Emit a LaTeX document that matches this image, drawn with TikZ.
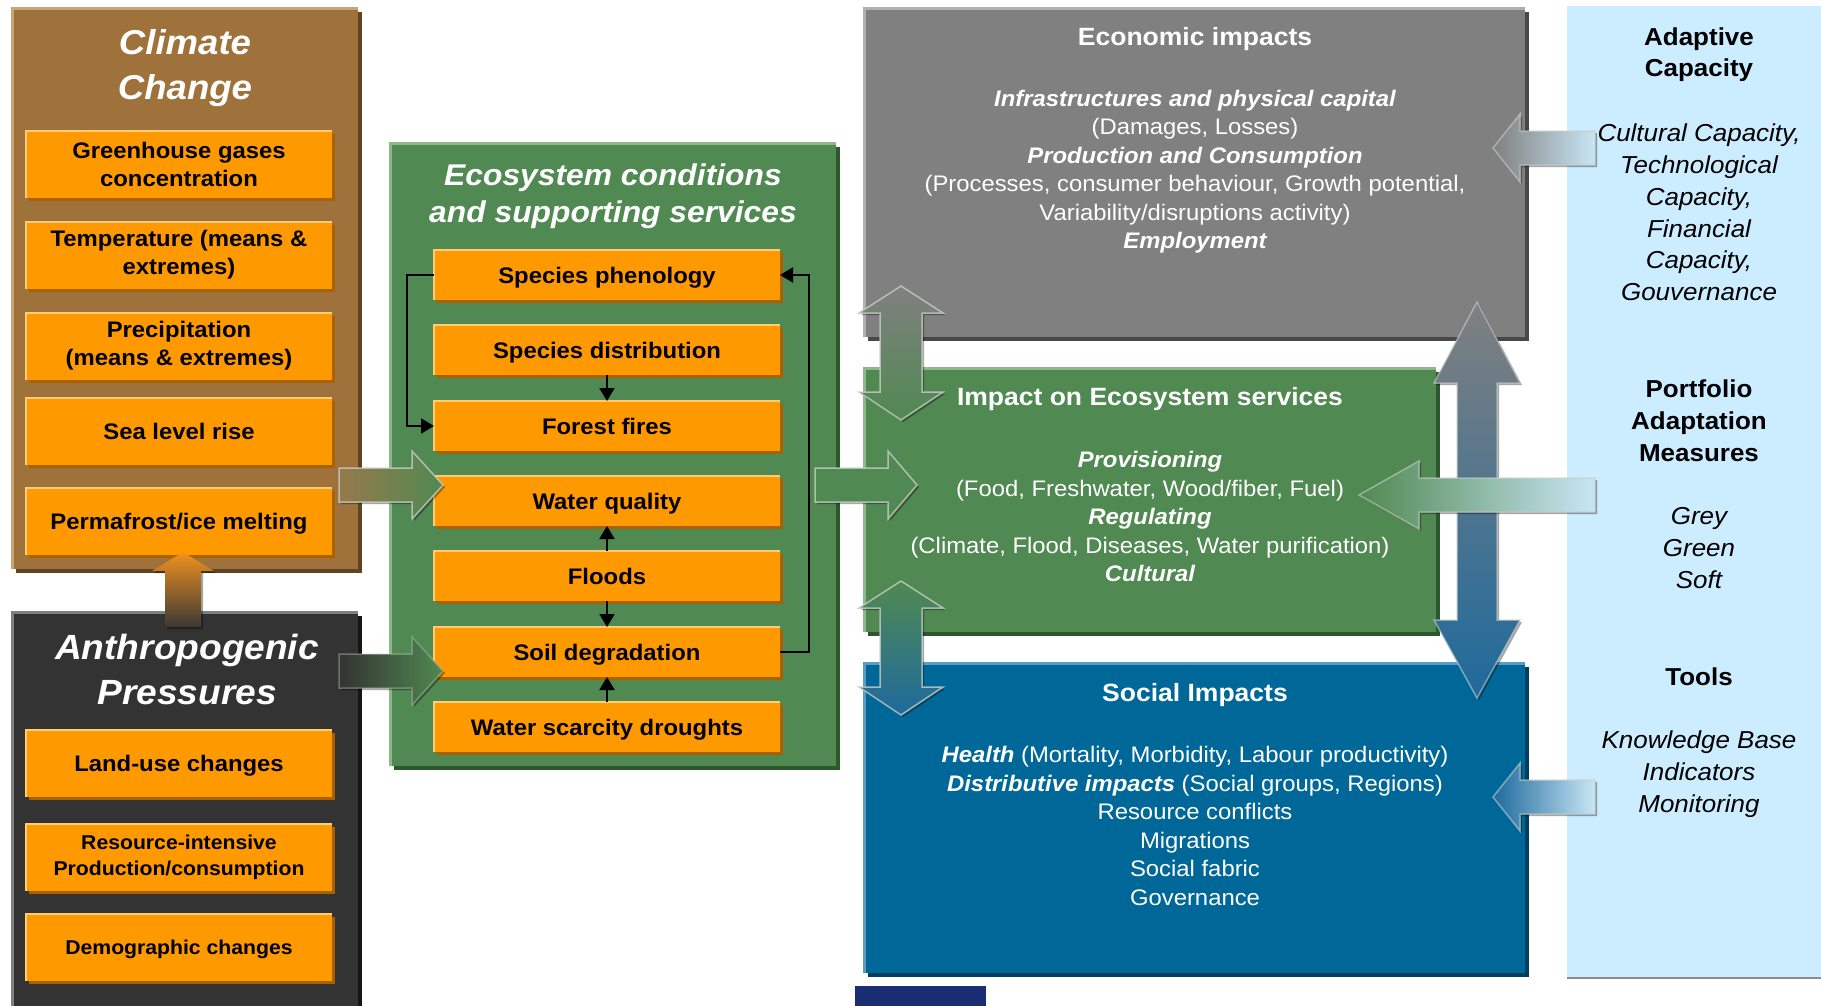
\documentclass[tikz,border=0pt]{standalone}
\usepackage{fontspec}
\setmainfont{Liberation Sans}[FakeStretch=1.06]
\usetikzlibrary{arrows.meta,shadows}
\newcommand{\fsz}[2]{\fontsize{#1}{#2}\selectfont}
\definecolor{cbrown}{RGB}{158,114,58}
\definecolor{cbrownL}{RGB}{200,165,118}
\definecolor{cbrownD}{RGB}{94,68,34}
\definecolor{carbrown}{RGB}{150,122,75}
\definecolor{cdark}{RGB}{51,51,51}
\definecolor{cdarkL}{RGB}{128,128,128}
\definecolor{cdarkD}{RGB}{22,22,22}
\definecolor{corange}{RGB}{255,153,0}
\definecolor{corangeL}{RGB}{255,204,120}
\definecolor{corangeD}{RGB}{170,98,0}
\definecolor{cupor}{RGB}{240,146,30}
\definecolor{cupdk}{RGB}{59,56,53}
\definecolor{cgreen}{RGB}{80,137,81}
\definecolor{cgreenL}{RGB}{140,184,140}
\definecolor{cgreenD}{RGB}{45,88,46}
\definecolor{cgrey}{RGB}{128,128,128}
\definecolor{cgreyL}{RGB}{176,176,176}
\definecolor{cgreyD}{RGB}{72,72,72}
\definecolor{cblue}{RGB}{0,104,153}
\definecolor{cblueL}{RGB}{90,156,196}
\definecolor{cblueD}{RGB}{0,62,94}
\definecolor{carblue}{RGB}{30,106,157}
\definecolor{clight}{RGB}{204,236,255}
\definecolor{carlight}{RGB}{200,230,245}
\definecolor{cnavy}{RGB}{27,45,114}
\definecolor{cedge}{RGB}{200,205,200}
% block arrow shapes
\newcommand{\rarrow}[7]{\path[#1] (#2,#5-#7) -- (#3,#5-#7) -- (#3,#5-#6) -- (#4,#5) -- (#3,#5+#6) -- (#3,#5+#7) -- (#2,#5+#7) -- cycle;}
\newcommand{\larrow}[7]{\path[#1] (#2,#5) -- (#3,#5-#6) -- (#3,#5-#7) -- (#4,#5-#7) -- (#4,#5+#7) -- (#3,#5+#7) -- (#3,#5+#6) -- cycle;}
\newcommand{\vdarrow}[8]{\path[#1] (#2,#5) -- (#2+#3,#6) -- (#2+#4,#6) -- (#2+#4,#7) -- (#2+#3,#7) -- (#2,#8) -- (#2-#3,#7) -- (#2-#4,#7) -- (#2-#4,#6) -- (#2-#3,#6) -- cycle;}
\newcommand{\uarrow}[7]{\path[#1] (#2,#5) -- (#2+#3,#6) -- (#2+#4,#6) -- (#2+#4,#7) -- (#2-#4,#7) -- (#2-#4,#6) -- (#2-#3,#6) -- cycle;}
\newcommand{\hlo}[1]{\draw[corangeL, line width=2pt] (#1.south west) |- (#1.north east);}
\begin{document}
\begin{tikzpicture}[x=1pt,y=-1pt,
  every node/.style={inner sep=0pt,outer sep=0pt},
  panel/.style={anchor=north west},
  obox/.style={fill=corange, minimum width=306pt, minimum height=67pt, align=center, text=black, font=\bfseries\fsz{22.5}{28}, drop shadow={shadow xshift=3pt,shadow yshift=-3pt,fill=corangeD,opacity=1}},
  ebox/.style={obox, minimum width=346pt, minimum height=50pt},
  one/.style={text height=16pt, text depth=0pt},
  onesm/.style={text height=14.3pt, text depth=0pt},
  big/.style={anchor=base, text=white, font=\bfseries\itshape\fsz{32}{40}},
  wt/.style={anchor=base, text=white, font=\fsz{22.5}{27}},
  wh/.style={anchor=base, text=white, font=\bfseries\itshape\fsz{22.5}{27}},
  wtt/.style={anchor=base, text=white, font=\bfseries\fsz{25}{30}},
  kt/.style={anchor=base, text=black, font=\itshape\fsz{24.5}{30}},
  kh/.style={anchor=base, text=black, font=\bfseries\fsz{24.5}{30}},
  blk/.style={draw=black, line width=2pt, -{Triangle[length=13pt,width=15pt]}},
  shd/.style={fill=black, opacity=0.35, shift={(2,2)}},
  edge/.style={draw=cedge, draw opacity=0.8, line width=1.5pt}
]
\fill[white] (0,0) rectangle (1821,1005);
\useasboundingbox (0,0) rectangle (1821,1005);

% ---------- panels ----------
\node[panel, fill=cbrown, minimum width=346pt, minimum height=561pt,
  drop shadow={shadow xshift=4pt,shadow yshift=-4pt,fill=cbrownD,opacity=1}] (climate) at (12,8) {};
\draw[cbrownL, line width=3pt] (climate.south west) |- (climate.north east);

\node[panel, fill=cdark, minimum width=346pt, minimum height=400pt,
  drop shadow={shadow xshift=4pt,shadow yshift=-4pt,fill=cdarkD,opacity=1}] (anthro) at (12,612) {};
\draw[cdarkL, line width=3pt] (anthro.south west) |- (anthro.north east);

\node[panel, fill=cgreen, minimum width=446pt, minimum height=623pt,
  drop shadow={shadow xshift=4pt,shadow yshift=-4pt,fill=cgreenD,opacity=1}] (eco) at (390,143) {};
\draw[cgreenL, line width=3pt] (eco.south west) |- (eco.north east);

\node[panel, fill=cgrey, minimum width=661pt, minimum height=329pt,
  drop shadow={shadow xshift=4pt,shadow yshift=-4pt,fill=cgreyD,opacity=1}] (econ) at (864,8) {};
\draw[cgreyL, line width=3pt] (econ.south west) |- (econ.north east);

\node[panel, fill=cgreen, minimum width=572pt, minimum height=264pt,
  drop shadow={shadow xshift=4pt,shadow yshift=-4pt,fill=cgreenD,opacity=1}] (impact) at (864,368) {};
\draw[cgreenL, line width=3pt] (impact.south west) |- (impact.north east);

\node[panel, fill=cblue, minimum width=661pt, minimum height=310pt,
  drop shadow={shadow xshift=4pt,shadow yshift=-4pt,fill=cblueD,opacity=1}] (social) at (864,663) {};
\draw[cblueL, line width=3pt] (social.south west) |- (social.north east);

\node[panel, fill=clight, minimum width=260pt, minimum height=971pt,
  drop shadow={shadow xshift=0pt,shadow yshift=-2pt,fill=black!45,opacity=1}] (adapt) at (1567,6) {};

\node[panel, fill=cnavy, minimum width=131pt, minimum height=25pt] (navy) at (855,986) {};

% ---------- climate change ----------
\node[big, font=\bfseries\itshape\fsz{34.5}{40}] (cct1) at (185,54) {Climate};
\node[big, font=\bfseries\itshape\fsz{34.5}{40}] (cct2) at (185,99) {Change};
\node[obox] (gh) at (179,164) {Greenhouse gases\\concentration};
\node[obox] (tm) at (179,255) {Temperature (means \&\\extremes)};
\node[obox] (pr) at (179,346) {Precipitation\\(means \& extremes)};
\node[obox, one] (sl) at (179,431) {Sea level rise};
\node[obox, one] (pf) at (179,521) {Permafrost/ice melting};
\hlo{gh}\hlo{tm}\hlo{pr}\hlo{sl}\hlo{pf}

% ---------- anthropogenic ----------
\node[big, font=\bfseries\itshape\fsz{35}{44}] (apt1) at (187,659) {Anthropogenic};
\node[big, font=\bfseries\itshape\fsz{35}{44}] (apt2) at (187,704) {Pressures};
\node[obox, one] (lu) at (179,763) {Land-use changes};
\node[obox, font=\bfseries\fsz{20}{26}] (ri) at (179,857) {Resource-intensive\\Production/consumption};
\node[obox, onesm, font=\bfseries\fsz{20}{26}] (dc) at (179,947) {Demographic changes};
\hlo{lu}\hlo{ri}\hlo{dc}

% ---------- ecosystem ----------
\node[big, font=\bfseries\itshape\fsz{30}{37}] (ect1) at (613,185) {Ecosystem conditions};
\node[big, font=\bfseries\itshape\fsz{30}{37}] (ect2) at (613,222) {and supporting services};
\node[ebox, one] (sp) at (607,275) {Species phenology};
\node[ebox, one] (sd) at (607,350) {Species distribution};
\node[ebox, one] (ff) at (607,426) {Forest fires};
\node[ebox, one] (wq) at (607,501) {Water quality};
\node[ebox, one] (fl) at (607,576) {Floods};
\node[ebox, one] (sdg) at (607,652) {Soil degradation};
\node[ebox, one] (ws) at (607,727) {Water scarcity droughts};
\hlo{sp}\hlo{sd}\hlo{ff}\hlo{wq}\hlo{fl}\hlo{sdg}\hlo{ws}
\draw[blk] (sd.south) -- (ff.north);
\draw[blk] (fl.north) -- (wq.south);
\draw[blk] (fl.south) -- (sdg.north);
\draw[blk] (ws.north) -- (sdg.south);
\draw[blk] (sp.west) -- ++(-27,0) |- (ff.west);
\draw[blk] (sdg.east) -- ++(29,0) |- (sp.east);

% ---------- economic ----------
\node[wtt] (et0) at (1195,45) {Economic impacts};
\node[wh] (et1) at (1195,106) {Infrastructures and physical capital};
\node[wt] (et2) at (1195,134.5) {(Damages, Losses)};
\node[wh] (et3) at (1195,163) {Production and Consumption};
\node[wt] (et4) at (1195,191.5) {(Processes, consumer behaviour, Growth potential,};
\node[wt] (et5) at (1195,220) {Variability/disruptions activity)};
\node[wh] (et6) at (1195,248.5) {Employment};

% ---------- impact on ecosystem services ----------
\node[wtt] (it0) at (1150,405) {Impact on Ecosystem services};
\node[wh] (it1) at (1150,467.5) {Provisioning};
\node[wt] (it2) at (1150,496) {(Food, Freshwater, Wood/fiber, Fuel)};
\node[wh] (it3) at (1150,524.5) {Regulating};
\node[wt] (it4) at (1150,553) {(Climate, Flood, Diseases, Water purification)};
\node[wh] (it5) at (1150,581.5) {Cultural};

% ---------- social ----------
\node[wtt] (st0) at (1195,701) {Social Impacts};
\node[wt] (st1) at (1195,762) {{\bfseries\itshape Health} (Mortality, Morbidity, Labour productivity)};
\node[wt] (st2) at (1195,791) {{\bfseries\itshape Distributive impacts} (Social groups, Regions)};
\node[wt] (st3) at (1195,819.5) {Resource conflicts};
\node[wt] (st4) at (1195,848) {Migrations};
\node[wt] (st5) at (1195,876.5) {Social fabric};
\node[wt] (st6) at (1195,905) {Governance};

% ---------- right column ----------
\node[kh] (ac1) at (1699,45) {Adaptive};
\node[kh] (ac2) at (1699,76) {Capacity};
\node[kt] (ac3) at (1699,141) {Cultural Capacity,};
\node[kt] (ac4) at (1699,173) {Technological};
\node[kt] (ac5) at (1699,205) {Capacity,};
\node[kt] (ac6) at (1699,237) {Financial};
\node[kt] (ac7) at (1699,268) {Capacity,};
\node[kt] (ac8) at (1699,300) {Gouvernance};
\node[kh] (pa1) at (1699,397) {Portfolio};
\node[kh] (pa2) at (1699,429) {Adaptation};
\node[kh] (pa3) at (1699,461) {Measures};
\node[kt] (pa4) at (1699,524) {Grey};
\node[kt] (pa5) at (1699,556) {Green};
\node[kt] (pa6) at (1699,588) {Soft};
\node[kh] (to1) at (1699,685) {Tools};
\node[kt] (to2) at (1699,748) {Knowledge Base};
\node[kt] (to3) at (1699,780) {Indicators};
\node[kt] (to4) at (1699,812) {Monitoring};

% ---------- block arrows ----------
% anthropogenic -> climate
\uarrow{shd}{183}{31}{18}{552}{571}{627}
\uarrow{top color=cupor, bottom color=cupdk}{183}{31}{18}{552}{571}{627}
% climate -> ecosystem
\rarrow{shd}{339}{412}{443}{485}{34}{17}
\rarrow{left color=carbrown, right color=cgreen}{339}{412}{443}{485}{34}{17}
\rarrow{edge}{339}{412}{443}{485}{34}{17}
% anthropogenic -> ecosystem
\rarrow{shd}{339}{412}{443}{671}{34}{17}
\rarrow{left color=cdark, right color=cgreen}{339}{412}{443}{671}{34}{17}
\rarrow{edge, draw opacity=0.4}{339}{412}{443}{671}{34}{17}
% ecosystem -> impact
\rarrow{shd}{815}{888}{917}{485}{34}{17}
\rarrow{fill=cgreen}{815}{888}{917}{485}{34}{17}
\rarrow{edge}{815}{888}{917}{485}{34}{17}
% economic <-> impact
\vdarrow{shd}{901}{42}{21}{286}{313}{392}{420}
\vdarrow{top color=cgrey, bottom color=cgreen}{901}{42}{21}{286}{313}{392}{420}
\vdarrow{edge}{901}{42}{21}{286}{313}{392}{420}
% impact <-> social
\vdarrow{shd}{901}{42}{21}{581}{608}{687}{715}
\vdarrow{top color=cgreen, bottom color=carblue}{901}{42}{21}{581}{608}{687}{715}
\vdarrow{edge}{901}{42}{21}{581}{608}{687}{715}
% economic <-> social (right)
\vdarrow{shd}{1477}{43}{20}{302}{383}{620}{698}
\vdarrow{top color=cgrey, bottom color=carblue}{1477}{43}{20}{302}{383}{620}{698}
\vdarrow{edge, draw opacity=0.6}{1477}{43}{20}{302}{383}{620}{698}
% right column arrows
\larrow{shd}{1493}{1520}{1595}{148}{34}{17}
\larrow{left color=cgrey, right color=carlight}{1493}{1520}{1595}{148}{34}{17}
\larrow{edge, draw opacity=0.6}{1493}{1520}{1595}{148}{34}{17}
\larrow{shd}{1359}{1419}{1595}{495}{34}{17}
\larrow{left color=cgreen, right color=carlight}{1359}{1419}{1595}{495}{34}{17}
\larrow{edge, draw opacity=0.6}{1359}{1419}{1595}{495}{34}{17}
\larrow{shd}{1493}{1520}{1595}{797}{34}{17}
\larrow{left color=carblue, right color=carlight}{1493}{1520}{1595}{797}{34}{17}
\larrow{edge, draw opacity=0.6}{1493}{1520}{1595}{797}{34}{17}
\end{tikzpicture}
\end{document}
